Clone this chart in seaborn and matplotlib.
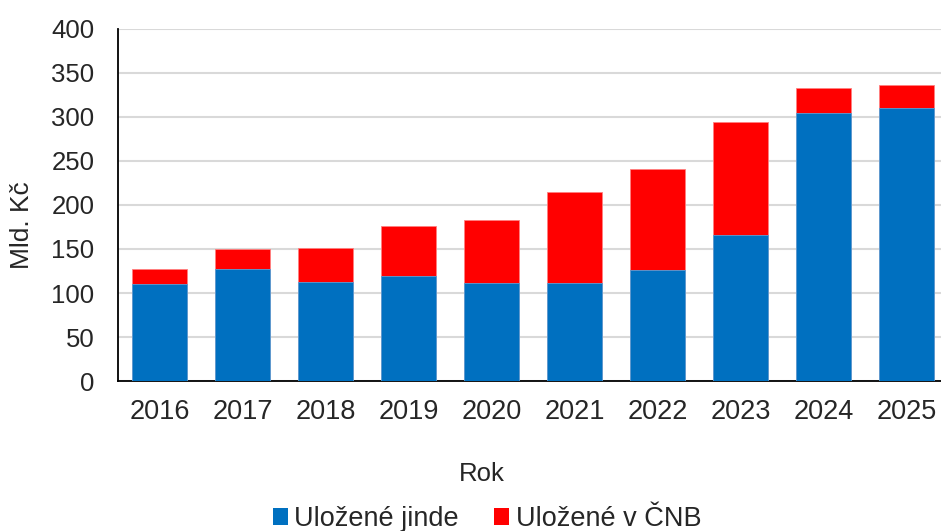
import matplotlib
matplotlib.use("Agg")
import matplotlib.pyplot as plt
import seaborn as sns
import pandas as pd
from matplotlib.patches import Patch

years = ["2016", "2017", "2018", "2019", "2020", "2021", "2022", "2023", "2024", "2025"]
elsewhere = [110, 127, 112.6, 119.4, 111.4, 111, 125.8, 165.9, 304.5, 309.5]
cnb = [17.3, 23, 38.2, 56.6, 71.8, 104, 114.6, 127.7, 28.4, 26.8]
yticks = [0, 50, 100, 150, 200, 250, 300, 350, 400]
series_names = ["Uložené jinde", "Uložené v ČNB"]
colors = ["#0070C0", "#FF0000"]

df = pd.DataFrame({"Rok": years, "jinde": elsewhere, "cnb": cnb})
df["total"] = df["jinde"] + df["cnb"]

sns.set_style("white")
plt.rcParams["font.family"] = ["Liberation Sans", "DejaVu Sans"]

fig = plt.figure(figsize=(9.41, 5.31), dpi=100)
ax = fig.add_axes([118 / 941, 149.7 / 531, 830 / 941, 352.8 / 531])

sns.barplot(data=df, x="Rok", y="total", color=colors[1], width=0.66,
            saturation=1, ax=ax, edgecolor="#ff8080", linewidth=0.6, zorder=2)
sns.barplot(data=df, x="Rok", y="jinde", color=colors[0], width=0.66,
            saturation=1, ax=ax, edgecolor="#5aa0d8", linewidth=0.6, zorder=3)

ax.set_ylim(0, 400)
ax.set_xlim(-0.5, 9.5)
ax.set_yticks(yticks)
ax.set_yticklabels([str(v) for v in yticks])
ax.yaxis.grid(True, color="#d9d9d9", linewidth=1.5, zorder=0)
ax.set_axisbelow(True)
for s in ["top", "right"]:
    ax.spines[s].set_visible(False)
ax.spines["left"].set_color("black")
ax.spines["bottom"].set_color("black")
ax.spines["left"].set_linewidth(1.3)
ax.spines["bottom"].set_linewidth(1.3)
ax.tick_params(axis="y", length=0, pad=17, labelsize=18.5)
ax.tick_params(axis="x", length=0, pad=13, labelsize=19.5)
ax.set_xlabel("")
ax.set_ylabel("")

fig.text(22 / 941, 1 - 225 / 531, "Mld. Kč", rotation=90, ha="center", va="center", fontsize=19)
fig.text(481.5 / 941, 1 - 474 / 531, "Rok", ha="center", va="center", fontsize=18.5)

handles = [Patch(facecolor=c, edgecolor="none") for c in colors]
fig.legend(handles, series_names, loc="center", bbox_to_anchor=(487 / 941, 1 - 519 / 531),
           ncol=2, frameon=False, fontsize=19.5, handlelength=0.55, handleheight=0.55,
           handletextpad=0.25, columnspacing=1.3, borderpad=0, borderaxespad=0)

fig.savefig("out.png", dpi=100)
